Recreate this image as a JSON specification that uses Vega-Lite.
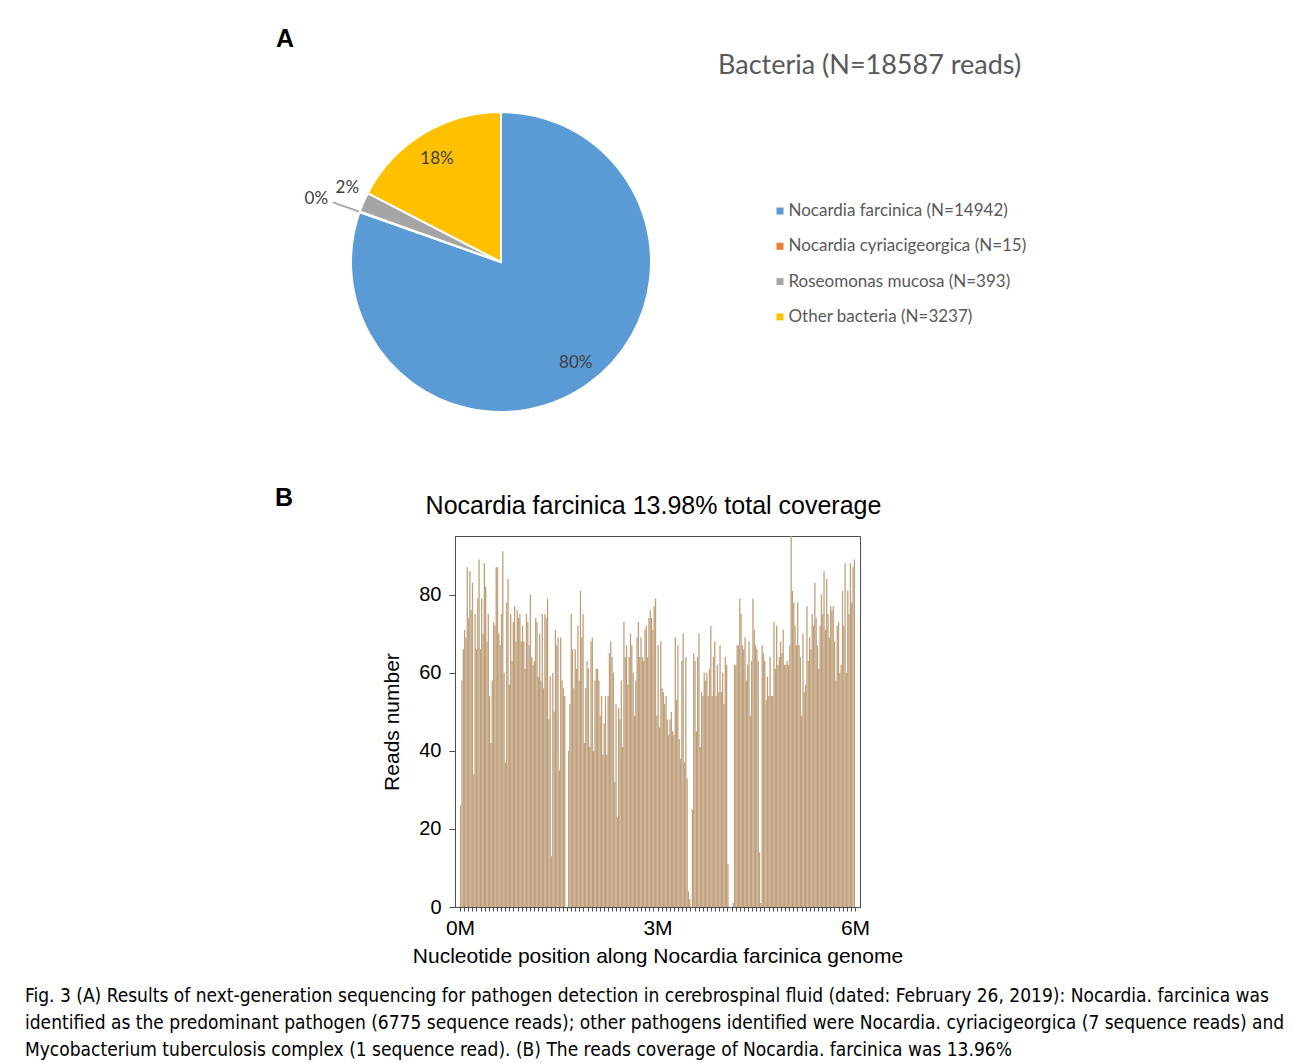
{
  "$schema": "https://vega.github.io/schema/vega-lite/v6.json",
  "background": "white",
  "padding": {"left": 25, "top": 27, "right": 5, "bottom": 5},
  "bounds": "flush",
  "spacing": 124,
  "title": {
    "text": [
      "Fig. 3 (A) Results of next-generation sequencing for pathogen detection in cerebrospinal fluid (dated: February 26, 2019): Nocardia. farcinica was",
      "identified as the predominant pathogen (6775 sequence reads); other pathogens identified were Nocardia. cyriacigeorgica (7 sequence reads) and",
      "Mycobacterium tuberculosis complex (1 sequence read). (B) The reads coverage of Nocardia. farcinica was 13.96%"
    ],
    "orient": "bottom",
    "anchor": "start",
    "frame": "bounds",
    "dx": -250,
    "offset": 20,
    "font": "Liberation Sans Narrow, DejaVu Sans Condensed",
    "fontSize": 19,
    "fontWeight": "normal",
    "lineHeight": 27,
    "color": "#000000"
  },
  "vconcat": [
    {
      "width": 92,
      "height": 300,
      "title": {"text": "A", "anchor": "start", "frame": "group", "dx": -179, "offset": 56, "font": "Liberation Sans", "fontSize": 25, "fontWeight": "bold", "color": "#000000"},
      "data": {"values": [
        {"k": 1, "species": "Nocardia farcinica (N=14942)", "n": 14942, "pct": "80%"},
        {"k": 2, "species": "Nocardia cyriacigeorgica (N=15)", "n": 15, "pct": "0%"},
        {"k": 3, "species": "Roseomonas mucosa (N=393)", "n": 393, "pct": "2%"},
        {"k": 4, "species": "Other bacteria (N=3237)", "n": 3237, "pct": "18%"}
      ]},
      "transform": [
        {"stack": "n", "groupby": [], "sort": [{"field": "k"}], "as": ["t0", "t1"]},
        {"calculate": "(datum.t0 + datum.t1) / 2", "as": "tm"}
      ],
      "layer": [
        {
          "mark": {"type": "arc", "outerRadius": 150, "stroke": "white", "strokeWidth": 2},
          "encoding": {
            "theta": {"field": "t0", "type": "quantitative", "scale": {"domain": [0, 18587]}},
            "theta2": {"field": "t1"},
            "color": {
              "field": "species", "type": "nominal",
              "scale": {
                "domain": ["Nocardia farcinica (N=14942)", "Nocardia cyriacigeorgica (N=15)", "Roseomonas mucosa (N=393)", "Other bacteria (N=3237)"],
                "range": ["#5b9bd5", "#ed7d31", "#a5a5a5", "#ffc000"]
              },
              "legend": {
                "orient": "none", "legendX": 263, "legendY": -59.5,
                "title": "Bacteria (N=18587 reads)",
                "titleFont": "Lato", "titleFontSize": 27, "titleFontWeight": "normal", "titleColor": "#595959",
                "titlePadding": 123, "titleLimit": 500, "titleAnchor": "start",
                "symbolType": "square", "symbolSize": 49, "symbolStrokeWidth": 0, "symbolOffset": 53.5,
                "labelFont": "Lato", "labelFontSize": 17, "labelColor": "#595959", "labelLimit": 500, "labelOffset": 0,
                "rowPadding": 17.3, "padding": 0
              }
            }
          }
        },
        {
          "transform": [{"filter": "datum.k == 2"}],
          "mark": {"type": "arc", "innerRadius": 151, "outerRadius": 178, "fill": "#a6a6a6", "stroke": "#a6a6a6", "strokeWidth": 1},
          "encoding": {
            "theta": {"field": "t0", "type": "quantitative", "scale": {"domain": [0, 18587]}},
            "theta2": {"field": "t1"}
          }
        },
        {
          "transform": [{"filter": "datum.k == 1"}],
          "mark": {"type": "text", "radius": 124, "thetaOffset": -0.031, "dy": 2.5, "font": "Lato", "fontSize": 17, "color": "#404040", "align": "center", "baseline": "middle"},
          "encoding": {"theta": {"field": "tm", "type": "quantitative", "scale": {"domain": [0, 18587]}}, "text": {"field": "pct"}}
        },
        {
          "transform": [{"filter": "datum.k == 4"}],
          "mark": {"type": "text", "radius": 123, "dy": 2.5, "font": "Lato", "fontSize": 17, "color": "#404040", "align": "center", "baseline": "middle"},
          "encoding": {"theta": {"field": "tm", "type": "quantitative", "scale": {"domain": [0, 18587]}}, "text": {"field": "pct"}}
        },
        {
          "transform": [{"filter": "datum.k == 3"}],
          "mark": {"type": "text", "radius": 171, "thetaOffset": 0.044, "dy": 1.5, "font": "Lato", "fontSize": 17, "color": "#404040", "align": "center", "baseline": "middle"},
          "encoding": {"theta": {"field": "tm", "type": "quantitative", "scale": {"domain": [0, 18587]}}, "text": {"field": "pct"}}
        },
        {
          "transform": [{"filter": "datum.k == 2"}],
          "mark": {"type": "text", "radius": 196, "dy": 3, "font": "Lato", "fontSize": 17, "color": "#404040", "align": "center", "baseline": "middle"},
          "encoding": {"theta": {"field": "tm", "type": "quantitative", "scale": {"domain": [0, 18587]}}, "text": {"field": "pct"}}
        }
      ]
    },
    {
      "title": {"text": "B", "anchor": "start", "frame": "group", "dx": -180, "dy": 17, "offset": 0, "font": "Liberation Sans", "fontSize": 25, "fontWeight": "bold", "color": "#000000"},
      "vconcat": [
        {
          "width": 405,
          "height": 371,
          "view": {"stroke": "#4d4d4d", "strokeWidth": 1},
          "title": {"text": "Nocardia farcinica 13.98% total coverage", "anchor": "middle", "frame": "group", "dx": -4, "offset": 17, "font": "Liberation Sans", "fontSize": 25, "fontWeight": "normal", "color": "#000000"},
          "data": {"values": [
            {"p":0.01,"r":26},{"p":0.03,"r":58},{"p":0.05,"r":66},{"p":0.07,"r":71},{"p":0.09,"r":69},{"p":0.11,"r":87},{"p":0.13,"r":74},{"p":0.15,"r":86},{"p":0.17,"r":76},{"p":0.19,"r":83},
            {"p":0.21,"r":34},{"p":0.23,"r":75},{"p":0.25,"r":66},{"p":0.27,"r":79},{"p":0.29,"r":89},{"p":0.31,"r":66},{"p":0.33,"r":79},{"p":0.35,"r":70},{"p":0.37,"r":88},{"p":0.39,"r":82},
            {"p":0.41,"r":68},{"p":0.43,"r":75},{"p":0.45,"r":54},{"p":0.47,"r":42},{"p":0.49,"r":58},{"p":0.51,"r":73},{"p":0.53,"r":72},{"p":0.55,"r":87},{"p":0.57,"r":87},{"p":0.59,"r":70},
            {"p":0.61,"r":67},{"p":0.63,"r":75},{"p":0.65,"r":91},{"p":0.67,"r":60},{"p":0.69,"r":37},{"p":0.71,"r":78},{"p":0.73,"r":84},{"p":0.75,"r":57},{"p":0.77,"r":75},{"p":0.79,"r":63},
            {"p":0.81,"r":73},{"p":0.83,"r":77},{"p":0.85,"r":68},{"p":0.87,"r":76},{"p":0.89,"r":74},{"p":0.91,"r":75},{"p":0.93,"r":68},{"p":0.95,"r":72},{"p":0.97,"r":68},{"p":0.99,"r":61},
            {"p":1.01,"r":75},{"p":1.03,"r":73},{"p":1.05,"r":67},{"p":1.07,"r":80},{"p":1.09,"r":64},{"p":1.11,"r":62},{"p":1.13,"r":63},{"p":1.15,"r":74},{"p":1.17,"r":73},{"p":1.19,"r":59},
            {"p":1.21,"r":70},{"p":1.23,"r":58},{"p":1.25,"r":75},{"p":1.27,"r":56},{"p":1.29,"r":75},{"p":1.31,"r":74},{"p":1.33,"r":79},{"p":1.35,"r":48},{"p":1.37,"r":59},{"p":1.39,"r":13},
            {"p":1.41,"r":60},{"p":1.43,"r":50},{"p":1.45,"r":71},{"p":1.47,"r":67},{"p":1.49,"r":69},{"p":1.51,"r":35},{"p":1.53,"r":69},{"p":1.55,"r":58},{"p":1.57,"r":56},{"p":1.59,"r":54},
            {"p":1.61,"r":0},{"p":1.63,"r":0},{"p":1.65,"r":40},{"p":1.67,"r":52},{"p":1.69,"r":75},{"p":1.71,"r":66},{"p":1.73,"r":56},{"p":1.75,"r":66},{"p":1.77,"r":61},{"p":1.79,"r":72},
            {"p":1.81,"r":58},{"p":1.83,"r":81},{"p":1.85,"r":69},{"p":1.87,"r":75},{"p":1.89,"r":42},{"p":1.91,"r":56},{"p":1.93,"r":63},{"p":1.95,"r":61},{"p":1.97,"r":41},{"p":1.99,"r":68},
            {"p":2.01,"r":69},{"p":2.03,"r":40},{"p":2.05,"r":58},{"p":2.07,"r":61},{"p":2.09,"r":61},{"p":2.11,"r":58},{"p":2.13,"r":49},{"p":2.15,"r":54},{"p":2.17,"r":39},{"p":2.19,"r":47},
            {"p":2.21,"r":54},{"p":2.23,"r":39},{"p":2.25,"r":54},{"p":2.27,"r":65},{"p":2.29,"r":68},{"p":2.31,"r":64},{"p":2.33,"r":60},{"p":2.35,"r":32},{"p":2.37,"r":52},{"p":2.39,"r":23},
            {"p":2.41,"r":51},{"p":2.43,"r":48},{"p":2.45,"r":58},{"p":2.47,"r":41},{"p":2.49,"r":73},{"p":2.51,"r":64},{"p":2.53,"r":67},{"p":2.55,"r":57},{"p":2.57,"r":64},{"p":2.59,"r":70},
            {"p":2.61,"r":67},{"p":2.63,"r":60},{"p":2.65,"r":49},{"p":2.67,"r":58},{"p":2.69,"r":69},{"p":2.71,"r":73},{"p":2.73,"r":64},{"p":2.75,"r":69},{"p":2.77,"r":64},{"p":2.79,"r":63},
            {"p":2.81,"r":71},{"p":2.83,"r":72},{"p":2.85,"r":64},{"p":2.87,"r":74},{"p":2.89,"r":76},{"p":2.91,"r":74},{"p":2.93,"r":71},{"p":2.95,"r":77},{"p":2.97,"r":79},{"p":2.99,"r":49},
            {"p":3.01,"r":67},{"p":3.03,"r":46},{"p":3.05,"r":68},{"p":3.07,"r":56},{"p":3.09,"r":55},{"p":3.11,"r":52},{"p":3.13,"r":54},{"p":3.15,"r":48},{"p":3.17,"r":44},{"p":3.19,"r":48},
            {"p":3.21,"r":50},{"p":3.23,"r":45},{"p":3.25,"r":44},{"p":3.27,"r":69},{"p":3.29,"r":53},{"p":3.31,"r":67},{"p":3.33,"r":43},{"p":3.35,"r":38},{"p":3.37,"r":63},{"p":3.39,"r":70},
            {"p":3.41,"r":37},{"p":3.43,"r":64},{"p":3.45,"r":33},{"p":3.47,"r":4},{"p":3.49,"r":2},{"p":3.51,"r":0},{"p":3.53,"r":25},{"p":3.55,"r":65},{"p":3.57,"r":63},{"p":3.59,"r":45},
            {"p":3.61,"r":64},{"p":3.63,"r":70},{"p":3.65,"r":41},{"p":3.67,"r":55},{"p":3.69,"r":54},{"p":3.71,"r":60},{"p":3.73,"r":58},{"p":3.75,"r":60},{"p":3.77,"r":54},{"p":3.79,"r":61},
            {"p":3.81,"r":72},{"p":3.83,"r":54},{"p":3.85,"r":64},{"p":3.87,"r":68},{"p":3.89,"r":54},{"p":3.91,"r":62},{"p":3.93,"r":55},{"p":3.95,"r":67},{"p":3.97,"r":55},{"p":3.99,"r":60},
            {"p":4.01,"r":52},{"p":4.03,"r":64},{"p":4.05,"r":62},{"p":4.07,"r":11},{"p":4.09,"r":0},{"p":4.11,"r":0},{"p":4.13,"r":0},{"p":4.15,"r":1},{"p":4.17,"r":62},{"p":4.19,"r":62},
            {"p":4.21,"r":67},{"p":4.23,"r":67},{"p":4.25,"r":79},{"p":4.27,"r":75},{"p":4.29,"r":67},{"p":4.31,"r":66},{"p":4.33,"r":69},{"p":4.35,"r":58},{"p":4.37,"r":62},{"p":4.39,"r":68},
            {"p":4.41,"r":49},{"p":4.43,"r":63},{"p":4.45,"r":79},{"p":4.47,"r":71},{"p":4.49,"r":67},{"p":4.51,"r":66},{"p":4.53,"r":63},{"p":4.55,"r":14},{"p":4.57,"r":1},{"p":4.59,"r":67},
            {"p":4.61,"r":65},{"p":4.63,"r":63},{"p":4.65,"r":53},{"p":4.67,"r":59},{"p":4.69,"r":54},{"p":4.71,"r":64},{"p":4.73,"r":54},{"p":4.75,"r":54},{"p":4.77,"r":73},{"p":4.79,"r":61},
            {"p":4.81,"r":72},{"p":4.83,"r":62},{"p":4.85,"r":64},{"p":4.87,"r":68},{"p":4.89,"r":65},{"p":4.91,"r":71},{"p":4.93,"r":62},{"p":4.95,"r":62},{"p":4.97,"r":63},{"p":4.99,"r":62},
            {"p":5.01,"r":67},{"p":5.03,"r":95},{"p":5.05,"r":81},{"p":5.07,"r":78},{"p":5.09,"r":72},{"p":5.11,"r":67},{"p":5.13,"r":78},{"p":5.15,"r":67},{"p":5.17,"r":64},{"p":5.19,"r":49},
            {"p":5.21,"r":70},{"p":5.23,"r":55},{"p":5.25,"r":57},{"p":5.27,"r":77},{"p":5.29,"r":63},{"p":5.31,"r":69},{"p":5.33,"r":66},{"p":5.35,"r":75},{"p":5.37,"r":72},{"p":5.39,"r":83},
            {"p":5.41,"r":74},{"p":5.43,"r":67},{"p":5.45,"r":61},{"p":5.47,"r":72},{"p":5.49,"r":80},{"p":5.51,"r":75},{"p":5.53,"r":86},{"p":5.55,"r":71},{"p":5.57,"r":84},{"p":5.59,"r":75},
            {"p":5.61,"r":69},{"p":5.63,"r":77},{"p":5.65,"r":76},{"p":5.67,"r":77},{"p":5.69,"r":68},{"p":5.71,"r":58},{"p":5.73,"r":72},{"p":5.75,"r":73},{"p":5.77,"r":60},{"p":5.79,"r":62},
            {"p":5.81,"r":81},{"p":5.83,"r":72},{"p":5.85,"r":88},{"p":5.87,"r":60},{"p":5.89,"r":81},{"p":5.91,"r":75},{"p":5.93,"r":88},{"p":5.95,"r":78},{"p":5.97,"r":87},{"p":5.99,"r":89}
          ]},
          "mark": {"type": "bar", "width": 1.3, "color": "#bfa07c"},
          "encoding": {
            "x": {
              "field": "p", "type": "quantitative",
              "scale": {"domain": [0, 6], "nice": false, "zero": false},
              "axis": {
                "values": [0,0.0625,0.125,0.1875,0.25,0.3125,0.375,0.4375,0.5,0.5625,0.625,0.6875,0.75,0.8125,0.875,0.9375,
                  1,1.0625,1.125,1.1875,1.25,1.3125,1.375,1.4375,1.5,1.5625,1.625,1.6875,1.75,1.8125,1.875,1.9375,
                  2,2.0625,2.125,2.1875,2.25,2.3125,2.375,2.4375,2.5,2.5625,2.625,2.6875,2.75,2.8125,2.875,2.9375,
                  3,3.0625,3.125,3.1875,3.25,3.3125,3.375,3.4375,3.5,3.5625,3.625,3.6875,3.75,3.8125,3.875,3.9375,
                  4,4.0625,4.125,4.1875,4.25,4.3125,4.375,4.4375,4.5,4.5625,4.625,4.6875,4.75,4.8125,4.875,4.9375,
                  5,5.0625,5.125,5.1875,5.25,5.3125,5.375,5.4375,5.5,5.5625,5.625,5.6875,5.75,5.8125,5.875,5.9375,6],
                "labelExpr": "datum.value % 3 == 0 ? datum.value + 'M' : ''",
                "labelOverlap": false, "labelFlush": false, "labelAlign": "center",
                "tickSize": 4, "labelPadding": 6, "labelFontSize": 21, "labelFont": "Liberation Sans", "labelColor": "#000000",
                "domainColor": "#4d4d4d", "tickColor": "#4d4d4d", "grid": false,
                "title": "Nucleotide position along Nocardia farcinica genome",
                "titleFont": "Liberation Sans", "titleFontSize": 21, "titleFontWeight": "normal", "titleColor": "#000000", "titlePadding": 7
              }
            },
            "y": {
              "field": "r", "type": "quantitative",
              "scale": {"domain": [0, 95], "nice": false},
              "axis": {
                "values": [0, 20, 40, 60, 80],
                "tickSize": 6, "labelPadding": 8, "labelFontSize": 20, "labelFont": "Liberation Sans", "labelColor": "#000000",
                "domainColor": "#4d4d4d", "tickColor": "#4d4d4d", "grid": false,
                "title": "Reads number",
                "titleFont": "Liberation Sans", "titleFontSize": 21, "titleFontWeight": "normal", "titleColor": "#000000", "titlePadding": 16
              }
            }
          }
        }
      ]
    }
  ],
  "config": {
    "view": {"stroke": null},
    "font": "Liberation Sans"
  }
}
